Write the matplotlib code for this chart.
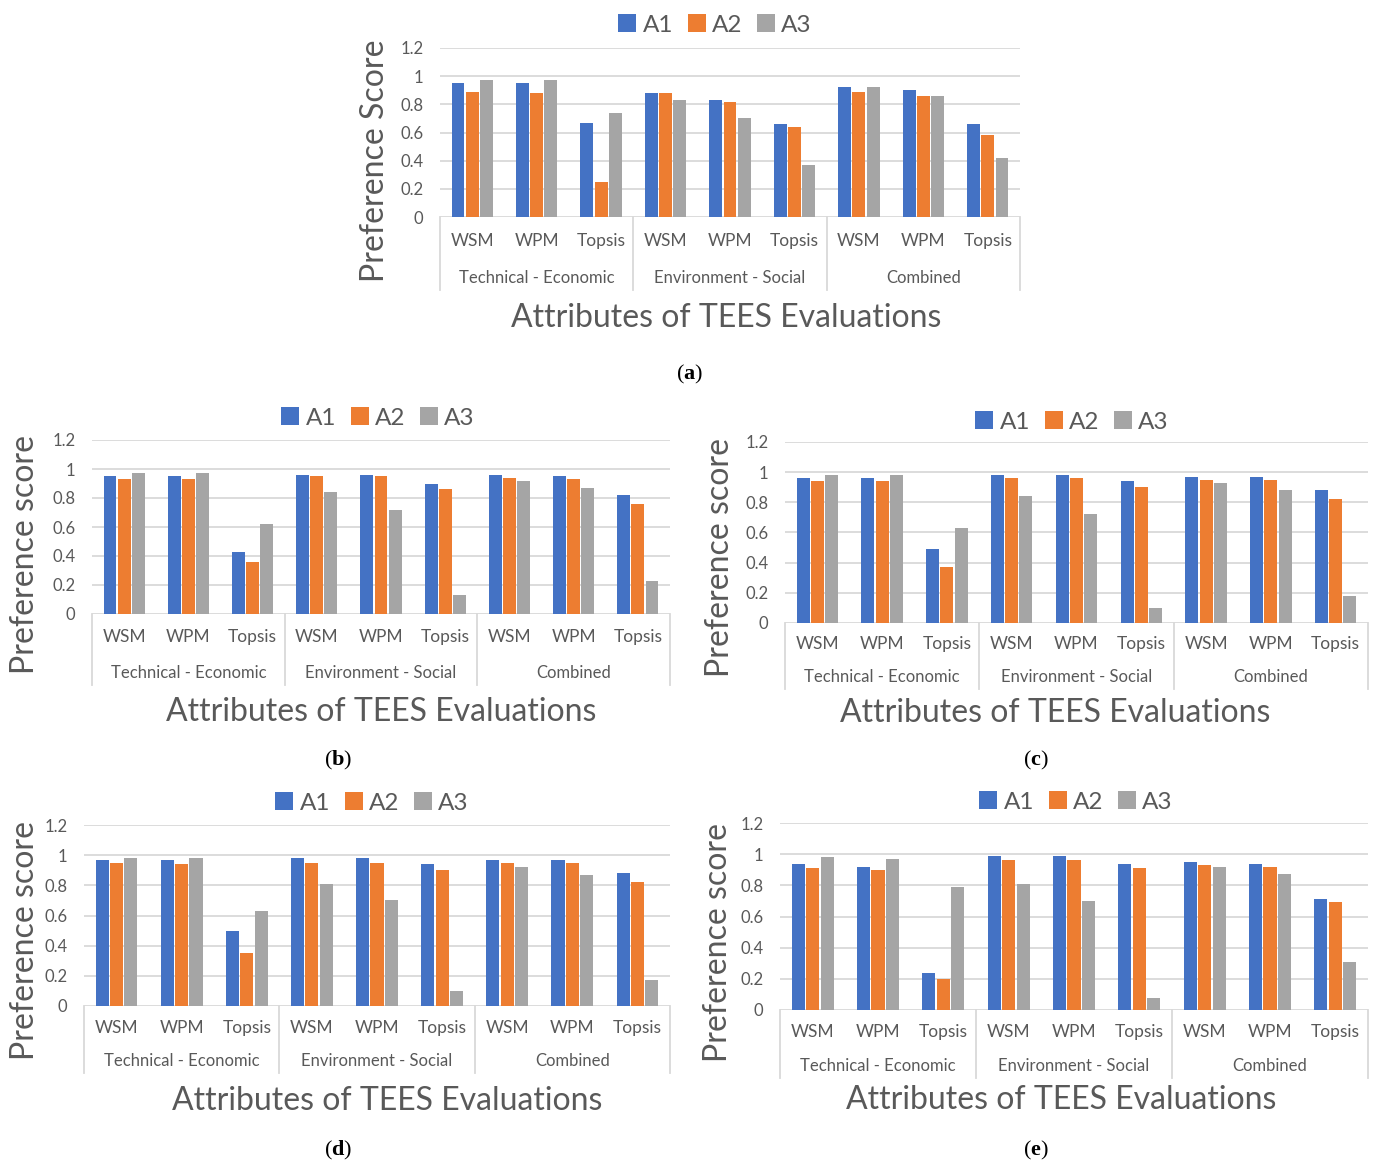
import numpy as np
import matplotlib
matplotlib.use('Agg')
import matplotlib.pyplot as plt
from matplotlib.patches import Patch
import matplotlib.transforms as mtrans

plt.rcParams['mathtext.fontset'] = 'custom'
plt.rcParams['mathtext.bf'] = 'Liberation Serif:bold'
plt.rcParams['mathtext.rm'] = 'Liberation Serif'

W, H = 1380, 1165
FONT = ['Lato', 'DejaVu Sans']
GREY = '#595959'

series = ['A1', 'A2', 'A3']
colors = ['#4472C4', '#ED7D31', '#A5A5A5']
methods = ['WSM', 'WPM', 'Topsis']
groups = ['Technical - Economic', 'Environment - Social', 'Combined']
yticks = [0, 0.2, 0.4, 0.6, 0.8, 1, 1.2]
ytick_labels = ['0', '0.2', '0.4', '0.6', '0.8', '1', '1.2']
x_title = 'Attributes of TEES Evaluations'

# values per category (TE: WSM, WPM, Topsis | ES: WSM, WPM, Topsis | C: WSM, WPM, Topsis)
a_A1 = [0.95, 0.95, 0.67, 0.88, 0.83, 0.66, 0.92, 0.90, 0.66]
a_A2 = [0.89, 0.88, 0.25, 0.88, 0.82, 0.64, 0.89, 0.86, 0.58]
a_A3 = [0.97, 0.97, 0.74, 0.83, 0.70, 0.37, 0.92, 0.86, 0.42]

b_A1 = [0.95, 0.95, 0.43, 0.96, 0.96, 0.90, 0.96, 0.95, 0.82]
b_A2 = [0.93, 0.93, 0.36, 0.95, 0.95, 0.86, 0.94, 0.93, 0.76]
b_A3 = [0.97, 0.97, 0.62, 0.84, 0.72, 0.13, 0.92, 0.87, 0.23]

c_A1 = [0.96, 0.96, 0.49, 0.98, 0.98, 0.94, 0.97, 0.97, 0.88]
c_A2 = [0.94, 0.94, 0.37, 0.96, 0.96, 0.90, 0.95, 0.95, 0.82]
c_A3 = [0.98, 0.98, 0.63, 0.84, 0.72, 0.10, 0.93, 0.88, 0.18]

d_A1 = [0.97, 0.97, 0.50, 0.98, 0.98, 0.94, 0.97, 0.97, 0.88]
d_A2 = [0.95, 0.94, 0.35, 0.95, 0.95, 0.90, 0.95, 0.95, 0.82]
d_A3 = [0.98, 0.98, 0.63, 0.81, 0.70, 0.10, 0.92, 0.87, 0.17]

e_A1 = [0.94, 0.92, 0.24, 0.99, 0.99, 0.94, 0.95, 0.94, 0.71]
e_A2 = [0.91, 0.90, 0.20, 0.96, 0.96, 0.91, 0.93, 0.92, 0.69]
e_A3 = [0.98, 0.97, 0.79, 0.81, 0.70, 0.08, 0.92, 0.87, 0.31]

fig = plt.figure(figsize=(W / 100, H / 100), dpi=100)


def fy(y):
    return 1 - y / H


def panel(rect, vals, ylabel, ylab_x, cat_y, grp_y, line_y, title_xy, leg_xy, cap_xy, cap):
    l, t, r, b = rect
    ax = fig.add_axes([l / W, 1 - b / H, (r - l) / W, (b - t) / H])
    x = np.arange(len(methods) * len(groups))
    offs = [-0.22, 0.0, 0.22]
    for k in range(3):
        ax.bar(x + offs[k], vals[k], width=0.2, color=colors[k], zorder=3, label=series[k])
    ax.set_xlim(-0.5, len(x) - 0.5)
    ax.set_ylim(0, 1.2)
    ax.set_yticks(yticks, ytick_labels)
    ax.set_xticks([])
    ax.yaxis.grid(True, color='#D9D9D9', lw=1.3)
    ax.set_axisbelow(True)
    for s in ax.spines.values():
        s.set_visible(False)
    ax.tick_params(axis='y', length=0, pad=12, labelsize=12, labelcolor=GREY)
    for lab in ax.get_yticklabels():
        lab.set_family(FONT)
    tr = mtrans.blended_transform_factory(ax.transData, fig.transFigure)
    for i in x:
        ax.text(i, fy(cat_y), methods[i % 3], transform=tr, ha='center', va='center',
                fontsize=12.5, color=GREY, family=FONT)
    for g in range(3):
        ax.text(3 * g + 1, fy(grp_y), groups[g], transform=tr, ha='center', va='center',
                fontsize=12, color=GREY, family=FONT)
    for g in range(4):
        xb = 3 * g - 0.5
        ax.plot([xb, xb], [fy(b), fy(line_y)], transform=tr, color='#D9D9D9', lw=1.3,
                clip_on=False)
    fig.text(title_xy[0] / W, fy(title_xy[1]), x_title, ha='center', va='center',
             fontsize=23, color=GREY, family=FONT)
    fig.text(ylab_x / W, fy((t + line_y) / 2 - 8), ylabel, ha='center', va='center',
             rotation=90, fontsize=23, color=GREY, family=FONT)
    handles = [Patch(facecolor=c, edgecolor='none') for c in colors]
    fig.legend(handles, series, loc='center', bbox_to_anchor=(leg_xy[0] / W, fy(leg_xy[1])),
               ncol=3, frameon=False, handlelength=0.75, handleheight=0.75,
               handletextpad=0.25, columnspacing=0.6, labelcolor=GREY,
               prop={'family': FONT, 'size': 17.5})
    fig.text(cap_xy[0] / W, fy(cap_xy[1]), r'($\mathbf{' + cap + '}$)', ha='center', va='center',
             fontsize=16, color='black', family='Liberation Serif')


panel((440, 48, 1020, 217), [a_A1, a_A2, a_A3], 'Preference Score', 375, 241, 278, 290,
      (726, 318), (715, 25), (690, 374), 'a')
panel((92, 440, 670, 614), [b_A1, b_A2, b_A3], 'Preference score', 25, 637, 673, 685,
      (381, 712), (378, 418), (338, 760), 'b')
panel((785, 442, 1368, 623), [c_A1, c_A2, c_A3], 'Preference score', 720, 644, 677, 689,
      (1055, 713), (1072, 422), (1036, 760), 'c')
panel((84, 825, 670, 1006), [d_A1, d_A2, d_A3], 'Preference score', 25, 1028, 1061, 1073,
      (387, 1101), (372, 803), (338, 1150), 'd')
panel((780, 823, 1368, 1010), [e_A1, e_A2, e_A3], 'Preference score', 718, 1032, 1066, 1078,
      (1061, 1100), (1076, 802), (1036, 1150), 'e')

fig.savefig('out.png', dpi=100)
